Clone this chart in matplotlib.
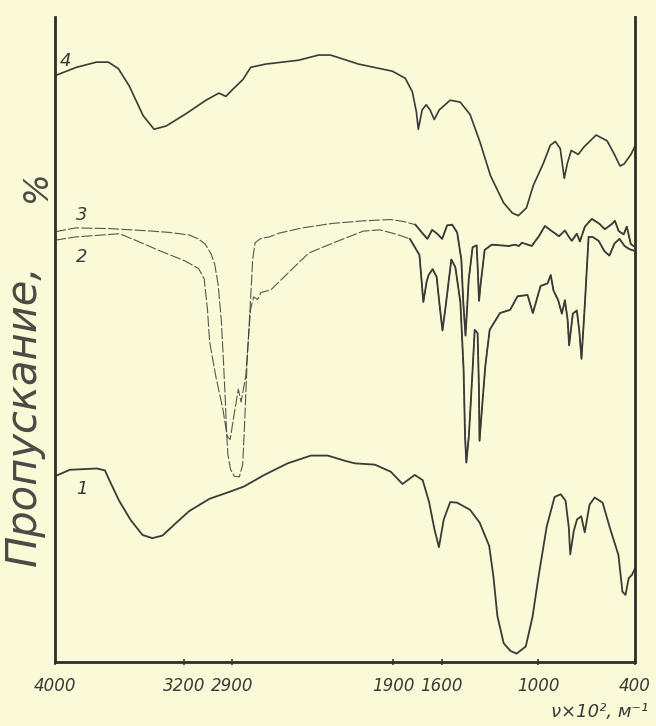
import numpy as np
import matplotlib
matplotlib.use("Agg")
import matplotlib.pyplot as plt

# IR spectra, wavenumber (x10^2 m^-1) vs transmittance (relative %)
wn1 = [4000, 3908, 3740, 3690, 3661, 3602, 3530, 3457, 3396, 3333, 3251, 3167, 3041, 2915,
       2828, 2701, 2556, 2412, 2306, 2201, 2139, 2015, 1916, 1843, 1767, 1718, 1678, 1645,
       1617, 1587, 1547, 1504, 1424, 1364, 1305, 1279, 1254, 1215, 1172, 1135, 1078, 1036,
       999, 948, 899, 861, 831, 811, 802, 780, 760, 734, 712, 682, 650, 601, 556, 503, 478,
       459, 439, 419, 400]
t1 = [28.8, 29.8, 30.0, 29.7, 28.1, 25.0, 22.0, 19.7, 19.2, 19.6, 21.5, 23.4, 25.3, 26.4,
      27.2, 29.0, 30.8, 32.0, 32.0, 31.2, 30.8, 30.6, 29.5, 27.6, 29.0, 28.2, 24.8, 20.6,
      17.8, 22.1, 24.8, 24.7, 23.6, 21.6, 18.0, 13.3, 7.1, 2.9, 1.7, 1.3, 2.4, 7.0,
      13.2, 21.0, 25.6, 26.0, 25.0, 20.9, 16.7, 20.3, 22.1, 22.6, 20.1, 24.4, 25.5, 24.7,
      20.8, 16.6, 10.9, 10.4, 13.0, 13.5, 14.5]

wn2 = [4000, 3872, 3600, 3502, 3354, 3195, 3109, 3074, 3054, 3040, 3002, 2958, 2931, 2913,
       2883, 2862, 2845, 2816, 2787, 2767, 2742, 2722, 2704, 2660, 2615, 2533, 2425, 2281,
       2087, 1983, 1878, 1797, 1738, 1724, 1714, 1693, 1681, 1656, 1631, 1615, 1595, 1576,
       1540, 1515, 1484, 1464, 1455, 1447, 1431, 1408, 1395, 1377, 1369, 1365, 1347, 1329,
       1302, 1238, 1175, 1129, 1067, 1034, 986, 943, 923, 906, 877, 854, 835, 818, 809, 786,
       761, 746, 732, 711, 688, 663, 626, 590, 559, 527, 496, 465, 434, 410]
t2 = [65.4, 65.9, 66.4, 65.4, 63.8, 62.2, 61.0, 59.4, 54.7, 49.6, 44.3, 39.2, 35.0, 34.5,
      39.2, 42.3, 40.3, 44.3, 54.6, 56.6, 56.2, 57.3, 57.4, 57.7, 58.8, 60.8, 63.4, 64.9,
      66.8, 67.0, 66.3, 65.6, 63.1, 58.9, 55.8, 59.0, 60.0, 60.9, 59.7, 55.8, 51.4, 55.0,
      62.4, 61.2, 55.8, 45.4, 35.1, 30.9, 35.1, 45.3, 51.5, 51.0, 42.8, 34.3, 40.2, 45.9,
      51.5, 54.1, 54.6, 56.7, 56.9, 54.1, 58.3, 58.7, 60.0, 57.6, 56.1, 54.0, 56.1, 53.0,
      49.1, 54.0, 54.5, 51.4, 47.0, 55.6, 65.9, 65.9, 65.3, 63.7, 63.0, 64.9, 65.6, 64.5,
      64.0, 63.8]

wn3 = [4000, 3872, 3662, 3395, 3290, 3166, 3111, 3068, 3032, 3009, 2988, 2968, 2955, 2943,
       2936, 2927, 2911, 2887, 2856, 2835, 2822, 2807, 2786, 2773, 2758, 2727, 2695, 2670,
       2608, 2465, 2278, 2085, 1918, 1838, 1763, 1720, 1689, 1659, 1628, 1597, 1566, 1535,
       1504, 1478, 1466, 1452, 1432, 1408, 1383, 1376, 1368, 1359, 1333, 1289, 1183, 1146,
       1121, 1102, 1041, 997, 959, 916, 872, 835, 810, 792, 761, 742, 711, 668, 624, 587,
       544, 525, 501, 470, 451, 426, 410]
t3 = [66.7, 67.3, 67.2, 66.8, 66.6, 66.2, 65.6, 64.8, 63.3, 61.7, 58.6, 53.1, 46.9, 40.7,
      36.1, 32.2, 29.9, 28.8, 28.7, 30.6, 37.6, 46.9, 56.2, 62.4, 65.0, 65.6, 65.8, 65.9,
      66.5, 67.3, 68.0, 68.4, 68.6, 68.3, 67.8, 66.5, 65.6, 67.0, 66.4, 65.6, 67.7, 67.8,
      66.6, 62.4, 55.8, 50.6, 59.3, 64.3, 64.6, 60.9, 56.0, 58.4, 63.9, 64.7, 64.5, 64.7,
      64.5, 65.0, 64.5, 66.0, 67.6, 66.8, 66.0, 66.9, 65.9, 65.3, 66.4, 65.2, 67.5, 68.7,
      68.0, 67.1, 67.9, 68.4, 66.8, 66.3, 67.5, 64.8, 64.5]

wn4 = [4000, 3867, 3743, 3669, 3607, 3539, 3453, 3385, 3310, 3187, 3063, 2983, 2939, 2896,
       2834, 2785, 2692, 2488, 2364, 2290, 2116, 1906, 1826, 1782, 1757, 1745, 1721, 1696,
       1672, 1646, 1615, 1547, 1485, 1424, 1362, 1297, 1216, 1161, 1124, 1074, 1031, 969,
       926, 895, 864, 839, 820, 796, 752, 715, 641, 573, 530, 493, 468, 425, 400]
t4 = [90.9, 92.2, 93.0, 93.0, 92.0, 89.3, 84.7, 82.6, 83.1, 85.0, 87.1, 88.2, 87.7, 88.8,
      90.3, 92.2, 92.7, 93.3, 94.1, 94.1, 92.7, 91.6, 90.5, 88.4, 85.3, 82.6, 85.6, 86.4,
      85.6, 84.1, 85.6, 87.1, 86.8, 84.9, 80.6, 75.4, 71.2, 69.6, 69.2, 70.4, 73.9, 77.3,
      80.1, 80.7, 79.6, 75.0, 77.3, 79.3, 78.7, 79.9, 81.7, 80.8, 78.8, 76.9, 77.2, 78.7,
      80.0]

tick_pos = [4000, 3200, 2900, 1900, 1600, 1000, 400]
tick_lbl = ["4000", "3200", "2900", "1900", "1600", "1000", "400"]

paper = "#fafad8"
ink = "#3a3a38"

fig = plt.figure(figsize=(6.56, 7.26), dpi=100, facecolor=paper)
ax = fig.add_axes([55 / 656, 64 / 726, 580 / 656, 645 / 726])
ax.set_facecolor(paper)

# curves 1 and 4 solid
ax.plot(wn1, t1, color=ink, lw=1.3, solid_joinstyle="round")
ax.plot(wn4, t4, color=ink, lw=1.2, solid_joinstyle="round")

# curves 2 and 3: thin broken pen on the left, solid on the right
for wn, t in [(wn2, t2), (wn3, t3)]:
    wn = np.array(wn)
    t = np.array(t)
    ax.plot(wn, t, color=ink, lw=0.8, ls=(0, (10, 2)), alpha=0.85)
    right = wn <= 1800
    ax.plot(wn[right], t[right], color=ink, lw=1.3, solid_joinstyle="round")

ax.set_xlim(4000, 400)
ax.set_ylim(0, 100)

ax.spines["top"].set_visible(False)
for s in ["left", "bottom", "right"]:
    ax.spines[s].set_linewidth(2.0)
    ax.spines[s].set_color("#2e2e2c")

ax.set_yticks([])
ax.set_xticks(tick_pos)
ax.set_xticklabels(tick_lbl, fontstyle="italic", fontsize=12, color=ink)
ax.tick_params(axis="x", direction="inout", length=5, width=1.2, pad=8, colors=ink)

# curve numbers
ax.text(3970, 92.4, "4", fontsize=13, fontstyle="italic", color=ink)
ax.text(3870, 68.5, "3", fontsize=13, fontstyle="italic", color=ink)
ax.text(3870, 62.0, "2", fontsize=13, fontstyle="italic", color=ink)
ax.text(3870, 26.0, "1", fontsize=13, fontstyle="italic", color=ink)

# axis titles, hand lettered in the original
fig.text(24 / 656, 1 - 415 / 726, "Пропускание,", rotation=90, fontsize=30,
         fontstyle="italic", color="#4a4a46", ha="center", va="center")
fig.text(36 / 656, 1 - 186 / 726, "%", rotation=90, fontsize=24,
         fontstyle="italic", color="#4a4a46", ha="center", va="center")
fig.text(600 / 656, 1 - 712 / 726, "ν×10², м⁻¹", fontsize=13, fontstyle="italic",
         color=ink, ha="center", va="center")

fig.savefig("out.png", dpi=100, facecolor=paper)
